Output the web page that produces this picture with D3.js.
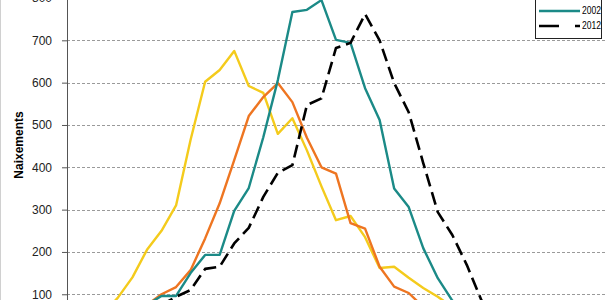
<!DOCTYPE html>
<html>
<head>
<meta charset="utf-8">
<script src="https://cdn.jsdelivr.net/npm/d3@7"></script>
<style>
  html, body { margin: 0; padding: 0; background: #fff; }
  svg { display: block; font-family: "Liberation Sans", Arial, sans-serif; }
</style>
</head>
<body>
<div id="chart"></div>
<script>
  // edat de la mare (only the middle of the chart is visible)
  const ages = d3.range(14, 51).map(String);
  const yTicks = [100, 200, 300, 400, 500, 600, 700, 800];
  const seriesNames = ["1982", "1992", "2002", "2012"];

  const births1982 = [10, 25, 55, 92, 140, 205, 250, 310, 465, 602, 630, 675, 592, 576, 479, 516, 440, 355, 275, 285,
    235, 162, 165, 139, 115, 94, 70, 45, 30, 20, 12, 8, 5, 3, 2, 1, 0];
  const births1992 = [2, 5, 10, 20, 40, 75, 100, 117, 157, 232, 315, 417, 521, 566, 599, 554, 470, 400, 385, 268,
    255, 165, 118, 103, 70, 45, 30, 18, 10, 6, 3, 2, 1, 0, 0, 0, 0];
  const births2002 = [1, 3, 8, 20, 45, 75, 96, 96, 150, 193, 193, 297, 351, 471, 606, 767, 772, 795, 701, 694,
    587, 512, 350, 306, 209, 138, 85, 50, 25, 12, 6, 3, 2, 1, 0, 0, 0];
  const births2012 = [0, 2, 5, 12, 25, 50, 75, 94, 110, 160, 165, 220, 257, 330, 387, 405, 547, 563, 682, 694,
    762, 700, 599, 530, 410, 294, 240, 169, 86, 50, 25, 12, 6, 3, 1, 0, 0];

  const seriesValues = [births1982, births1992, births2002, births2012];
  const colors = ["#F4CB1C", "#EE7521", "#1B8A87", "#000000"];
  const dashes = [null, null, null, "13,6"];

  const width = 611, height = 300;
  const svg = d3.select("#chart").append("svg")
    .attr("width", width).attr("height", height);

  const x = d3.scaleBand().domain(ages).range([67, 605]).padding(0);
  const y = d3.scaleLinear().domain([0, 800]).range([336.6, -2.0]);

  // chart area border at left edge
  svg.append("line").attr("x1", 0.5).attr("x2", 0.5).attr("y1", 0).attr("y2", height)
    .attr("stroke", "#d0d0d0");

  // grid
  svg.append("g").selectAll("line")
    .data(yTicks).join("line")
    .attr("x1", 67).attr("x2", 605)
    .attr("y1", (d) => Math.round(y(d)) + 0.5).attr("y2", (d) => Math.round(y(d)) + 0.5)
    .attr("stroke", "#9a9a9a").attr("stroke-dasharray", "3,2");

  const yAxis = svg.append("g").attr("transform", "translate(67,0)")
    .call(d3.axisLeft(y).tickValues(yTicks).tickSize(5).tickPadding(10).tickFormat(d3.format("d")));
  yAxis.select(".domain").attr("stroke", "#555");
  yAxis.selectAll(".tick line").attr("stroke", "#555");
  yAxis.selectAll("text").attr("font-size", 12).attr("fill", "#222")
    .attr("font-family", "'Liberation Sans', Arial, sans-serif");

  svg.append("text")
    .attr("transform", "translate(23,145) rotate(-90)")
    .attr("text-anchor", "middle")
    .attr("font-size", 12).attr("font-weight", "bold")
    .text("Naixements");

  const line = d3.line()
    .x((d, i) => x(ages[i]) + x.bandwidth() / 2)
    .y((d) => y(d));

  svg.append("g").selectAll("path")
    .data(seriesValues).join("path")
    .attr("d", line)
    .attr("fill", "none")
    .attr("stroke", (d, i) => colors[i])
    .attr("stroke-width", (d, i) => (i === 3 ? 2.6 : 2.4))
    .attr("stroke-dasharray", (d, i) => dashes[i])
    .attr("stroke-linejoin", "round");

  // legend (top part is cut by the frame)
  const legend = svg.append("g");
  legend.append("rect")
    .attr("x", 535.5).attr("y", -40.5).attr("width", 66).attr("height", 79)
    .attr("fill", "#fff").attr("stroke", "#222");
  const rowY = (i) => 26 - (seriesNames.length - 1 - i) * 15;
  legend.selectAll(".lg-line").data(seriesNames).join("line")
    .attr("x1", 539).attr("x2", 580)
    .attr("y1", (d, i) => rowY(i)).attr("y2", (d, i) => rowY(i))
    .attr("stroke", (d, i) => colors[i])
    .attr("stroke-width", 2.6)
    .attr("stroke-dasharray", (d, i) => (i === 3 ? "20,16" : null));
  legend.selectAll(".lg-text").data(seriesNames).join("text")
    .attr("x", 582).attr("y", (d, i) => rowY(i))
    .attr("dy", "0.3em")
    .attr("font-size", 11)
    .attr("textLength", 19).attr("lengthAdjust", "spacingAndGlyphs")
    .text((d) => d);
</script>
</body>
</html>
